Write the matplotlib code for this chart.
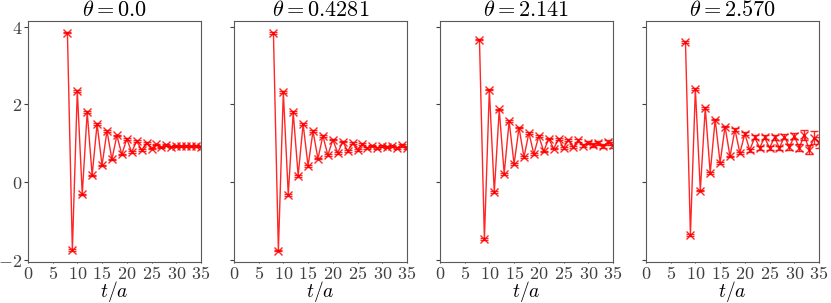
import numpy as np
import matplotlib
matplotlib.use("Agg")
import matplotlib.pyplot as plt
from matplotlib.ticker import FormatStrFormatter

plt.rcParams['mathtext.fontset'] = 'cm'
plt.rcParams['font.family'] = 'serif'
plt.rcParams['font.serif'] = ['DejaVu Serif']

t = np.arange(8, 36)
titles = [r"$\theta = 0.0$", r"$\theta = 0.4281$", r"$\theta = 2.141$", r"$\theta = 2.570$"]

y0 = [3.85, -1.76, 2.35, -0.32, 1.81, 0.17, 1.50, 0.43, 1.32, 0.58, 1.20, 0.71, 1.11, 0.77,
      1.06, 0.82, 1.01, 0.86, 0.97, 0.89, 0.95, 0.91, 0.93, 0.92, 0.93, 0.92, 0.93, 0.91]
e0 = [0.02] * 28

y1 = [3.84, -1.77, 2.32, -0.33, 1.80, 0.16, 1.50, 0.41, 1.31, 0.60, 1.19, 0.69, 1.09, 0.75,
      1.04, 0.80, 1.00, 0.83, 0.98, 0.87, 0.94, 0.88, 0.92, 0.90, 0.93, 0.88, 0.95, 0.88]
e1 = [0.02] * 22 + [0.03, 0.03, 0.03, 0.03, 0.04, 0.04]

y2 = [3.67, -1.47, 2.38, -0.26, 1.87, 0.21, 1.57, 0.46, 1.40, 0.64, 1.27, 0.72, 1.18, 0.79,
      1.12, 0.86, 1.11, 0.88, 1.09, 0.90, 1.07, 0.94, 1.01, 0.96, 1.00, 0.93, 1.02, 0.95]
e2 = [0.02] * 18 + [0.03, 0.03, 0.03, 0.04, 0.04, 0.05, 0.05, 0.06, 0.07, 0.08]

y3 = [3.61, -1.36, 2.40, -0.22, 1.91, 0.23, 1.61, 0.49, 1.43, 0.66, 1.35, 0.75, 1.24, 0.82,
      1.15, 0.88, 1.15, 0.88, 1.15, 0.88, 1.17, 0.90, 1.18, 0.88, 1.22, 0.83, 1.14, 1.02]
e3 = [0.02] * 10 + [0.03, 0.03, 0.04, 0.04, 0.05, 0.05, 0.05, 0.05, 0.06, 0.06, 0.06,
                    0.07, 0.08, 0.09, 0.13, 0.12, 0.17, 0.15]

ys = [y0, y1, y2, y3]
es = [e0, e1, e2, e3]

fig, axes = plt.subplots(1, 4, figsize=(8.31, 3.03), dpi=100, sharey=True)
fig.subplots_adjust(left=0.0335, right=0.9856, top=0.931, bottom=0.134, wspace=0.19)

for ax, y, e, title in zip(axes, ys, es, titles):
    ax.errorbar(t, y, yerr=e, color='red', marker='x', ms=6, lw=1, capsize=3,
                elinewidth=1, alpha=0.85)
    ax.set_xlim(0, 35)
    ax.set_xticks(range(0, 36, 5))
    ax.set_yticks([-2, 0, 2, 4])
    ax.xaxis.set_major_formatter(FormatStrFormatter(r'$%d$'))
    ax.yaxis.set_major_formatter(FormatStrFormatter(r'$%d$'))
    ax.set_title(title, fontsize=16, pad=3)
    ax.set_xlabel(r"$t/a$", fontsize=14, labelpad=-3)
    ax.tick_params(labelsize=13, colors='0.25', length=3, pad=1)
    ax.tick_params(axis='x', length=1)
    for s in ax.spines.values():
        s.set_color('0.35')

plt.savefig("out.png")
